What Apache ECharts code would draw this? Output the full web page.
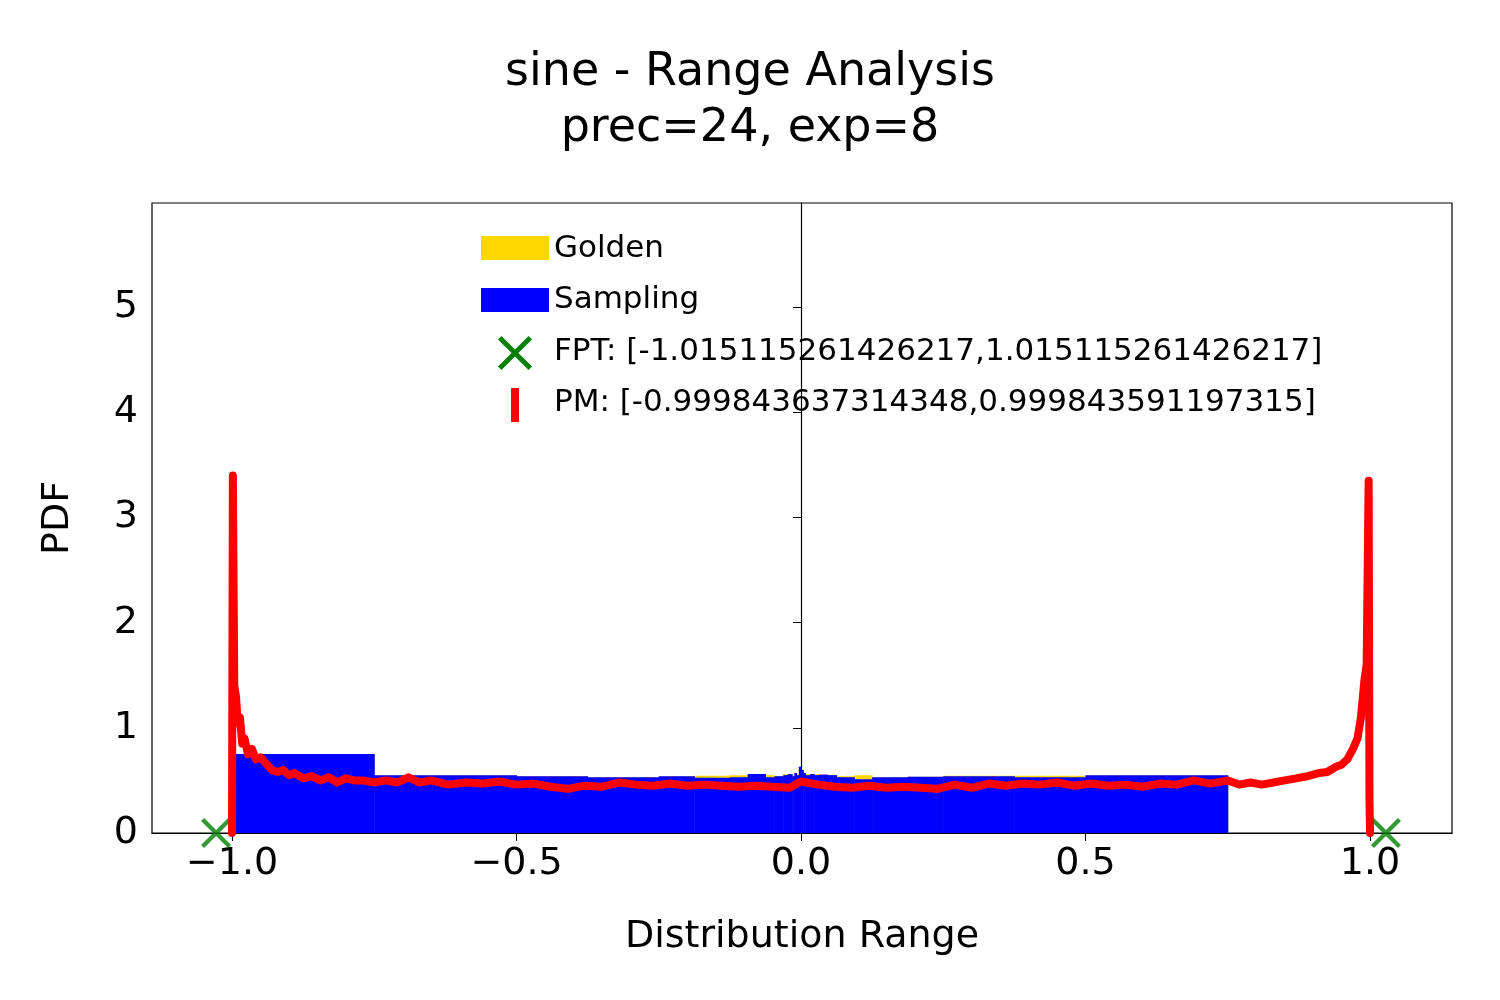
<!DOCTYPE html>
<html>
<head>
<meta charset="utf-8">
<script src="https://cdn.jsdelivr.net/npm/echarts@6/dist/echarts.min.js"></script>
<style>html,body{margin:0;padding:0;background:#fff}#main{width:1500px;height:1000px}</style>
</head>
<body>
<div id="main"></div>
<script>
var binEdges = [-1.0, -0.75, -0.5, -0.375, -0.25, -0.1875, -0.125, -0.09375, -0.0625, -0.046875, -0.03125, -0.0234375, -0.015625, -0.01171875, -0.0078125, -0.00390625, 0, 0.00390625, 0.0078125, 0.015625, 0.0234375, 0.03125, 0.046875, 0.0625, 0.09375, 0.125, 0.1875, 0.25, 0.375, 0.5, 0.75];
var samplingHeights = [0.75, 0.55, 0.54, 0.53, 0.54, 0.525, 0.53, 0.56, 0.53, 0.54, 0.55, 0.56, 0.54, 0.57, 0.55, 0.63, 0.6, 0.57, 0.55, 0.56, 0.55, 0.555, 0.55, 0.53, 0.51, 0.53, 0.535, 0.54, 0.53, 0.55];
var goldenHeights = [0.75, 0.55, 0.54, 0.53, 0.54, 0.545, 0.55, 0.56, 0.55, 0.54, 0.56, 0.56, 0.55, 0.57, 0.56, 0.6, 0.6, 0.57, 0.56, 0.56, 0.56, 0.555, 0.55, 0.54, 0.55, 0.53, 0.535, 0.545, 0.545, 0.55];

var pmX = [-1.0, -0.9985, -0.996, -0.993, -0.99, -0.986, -0.982, -0.978, -0.972, -0.965, -0.958, -0.95, -0.94, -0.93, -0.92, -0.91, -0.9, -0.89, -0.875, -0.86, -0.845, -0.83, -0.815, -0.8, -0.785, -0.77, -0.75, -0.73, -0.71, -0.69, -0.67, -0.65, -0.62, -0.59, -0.56, -0.53, -0.5, -0.47, -0.44, -0.41, -0.38, -0.35, -0.32, -0.29, -0.26, -0.23, -0.2, -0.17, -0.14, -0.11, -0.08, -0.05, -0.02, 0.0, 0.03, 0.06, 0.09, 0.12, 0.15, 0.18, 0.21, 0.24, 0.27, 0.3, 0.33, 0.36, 0.39, 0.42, 0.45, 0.48, 0.51, 0.54, 0.57, 0.6, 0.63, 0.66, 0.69, 0.72, 0.75, 0.77, 0.79, 0.81, 0.83, 0.85, 0.87, 0.89, 0.91, 0.925, 0.94, 0.95, 0.96, 0.97, 0.978, 0.984, 0.99, 0.994, 0.9975, 0.999, 1.0];
var pmY = [0.0, 3.4, 1.4, 1.3, 1.05, 1.1, 0.85, 0.9, 0.75, 0.8, 0.7, 0.72, 0.66, 0.6, 0.58, 0.6, 0.55, 0.57, 0.52, 0.54, 0.5, 0.53, 0.48, 0.52, 0.5, 0.5, 0.48, 0.5, 0.48, 0.53, 0.48, 0.5, 0.46, 0.48, 0.47, 0.49, 0.46, 0.47, 0.44, 0.42, 0.45, 0.44, 0.48, 0.46, 0.45, 0.47, 0.45, 0.46, 0.45, 0.44, 0.45, 0.44, 0.43, 0.49, 0.46, 0.44, 0.43, 0.45, 0.43, 0.44, 0.43, 0.42, 0.46, 0.43, 0.47, 0.45, 0.47, 0.46, 0.48, 0.45, 0.47, 0.45, 0.46, 0.44, 0.47, 0.46, 0.5, 0.47, 0.5, 0.46, 0.48, 0.46, 0.48, 0.5, 0.52, 0.54, 0.57, 0.58, 0.63, 0.65, 0.7, 0.8, 0.9, 1.1, 1.45, 1.6, 3.35, 0.3, 0.0];
var fptX = [-1.028, 1.028];
var xTicks = [-1.0, -0.5, 0.0, 0.5, 1.0];
var yTicks = [0, 1, 2, 3, 4, 5];

function histData(heights) {
  return heights.map(function (h, i) { return [binEdges[i], binEdges[i + 1], h]; });
}
function renderBin(color) {
  return function (params, api) {
    var p0 = api.coord([api.value(0), api.value(2)]);
    var p1 = api.coord([api.value(1), 0]);
    return {
      type: 'rect',
      shape: { x: p0[0], y: p0[1], width: p1[0] - p0[0] + 0.5, height: p1[1] - p0[1] },
      style: { fill: color }
    };
  };
}
// X-shaped marker outline, 20x20 units
var xShape = [[2,0],[10,8],[18,0],[20,2],[12,10],[20,18],[18,20],[10,12],[2,20],[0,18],[8,10],[0,2]];
function xPoints(cx, cy, s) {
  return xShape.map(function (p) { return [cx + (p[0] - 10) * s / 20, cy + (p[1] - 10) * s / 20]; });
}

var chart = echarts.init(document.getElementById('main'), null, { renderer: 'canvas' });
var font = 'DejaVu Sans';
chart.setOption({
  animation: false,
  textStyle: { fontFamily: font },
  title: {
    text: 'sine - Range Analysis\nprec=24, exp=8',
    left: 'center', top: 40,
    textStyle: { fontSize: 46, fontWeight: 'normal', color: '#000', lineHeight: 56, fontFamily: font }
  },
  grid: { left: 152, top: 203, width: 1300, height: 630, show: true, borderColor: '#000', borderWidth: 1.2, backgroundColor: 'transparent' },
  xAxis: {
    type: 'value', min: -1.1406, max: 1.144,
    name: 'Distribution Range', nameLocation: 'middle', nameGap: 85,
    nameTextStyle: { fontSize: 38, color: '#000', fontFamily: font },
    axisLine: { show: true, onZero: false, lineStyle: { color: '#000', width: 1.2 } },
    axisTick: { show: true, length: 8, customValues: xTicks, lineStyle: { color: '#000' } },
    axisLabel: { customValues: xTicks, fontSize: 38, color: '#000', margin: 12, fontFamily: font,
      formatter: function (v) { return v.toFixed(1).replace('-', '\u2212'); } },
    splitLine: { show: false }
  },
  yAxis: {
    type: 'value', min: 0, max: 5.99,
    name: 'PDF', nameLocation: 'middle', nameGap: 75,
    nameTextStyle: { fontSize: 38, color: '#000', fontFamily: font },
    axisLine: { show: true, lineStyle: { color: '#000', width: 1.2 } },
    axisTick: { show: true, length: 8, customValues: yTicks, lineStyle: { color: '#000' } },
    axisLabel: { customValues: yTicks, fontSize: 38, color: '#000', margin: 14, fontFamily: font },
    splitLine: { show: false }
  },
  series: [
    { name: 'Golden', type: 'custom', renderItem: renderBin('#ffd700'), data: histData(goldenHeights), encode: { x: [0, 1], y: 2 }, z: 1 },
    { name: 'Sampling', type: 'custom', renderItem: renderBin('#0000ff'), data: histData(samplingHeights), encode: { x: [0, 1], y: 2 }, z: 2 },
    { name: 'FPT', type: 'scatter', data: fptX.map(function (x) { return [x, 0]; }), clip: true,
      symbol: 'path://M2,0 L10,8 L18,0 L20,2 L12,10 L20,18 L18,20 L10,12 L2,20 L0,18 L8,10 L0,2 Z',
      symbolSize: 30, itemStyle: { color: '#008000' }, z: 3 },
    { name: 'PM', type: 'line', data: pmX.map(function (x, i) { return [x, pmY[i]]; }), showSymbol: false,
      lineStyle: { color: '#ff0000', width: 8, cap: 'round', join: 'round' }, z: 4 }
  ],
  graphic: [
    { type: 'rect', shape: { x: 481, y: 236, width: 68, height: 24 }, style: { fill: '#ffd700' } },
    { type: 'text', x: 554, y: 249, style: { text: 'Golden', fontSize: 31, fontFamily: font, fill: '#000', verticalAlign: 'middle' } },
    { type: 'rect', shape: { x: 481, y: 288, width: 68, height: 24 }, style: { fill: '#0000ff' } },
    { type: 'text', x: 554, y: 300, style: { text: 'Sampling', fontSize: 31, fontFamily: font, fill: '#000', verticalAlign: 'middle' } },
    { type: 'polygon', shape: { points: xPoints(515, 353, 34) }, style: { fill: '#008000' } },
    { type: 'text', x: 554, y: 352, style: { text: 'FPT: [-1.015115261426217,1.015115261426217]', fontSize: 31, fontFamily: font, fill: '#000', verticalAlign: 'middle' } },
    { type: 'rect', shape: { x: 511, y: 388, width: 8, height: 34 }, style: { fill: '#ff0000' } },
    { type: 'text', x: 554, y: 403, style: { text: 'PM: [-0.999843637314348,0.999843591197315]', fontSize: 31, fontFamily: font, fill: '#000', verticalAlign: 'middle' } }
  ]
});
</script>
</body>
</html>
